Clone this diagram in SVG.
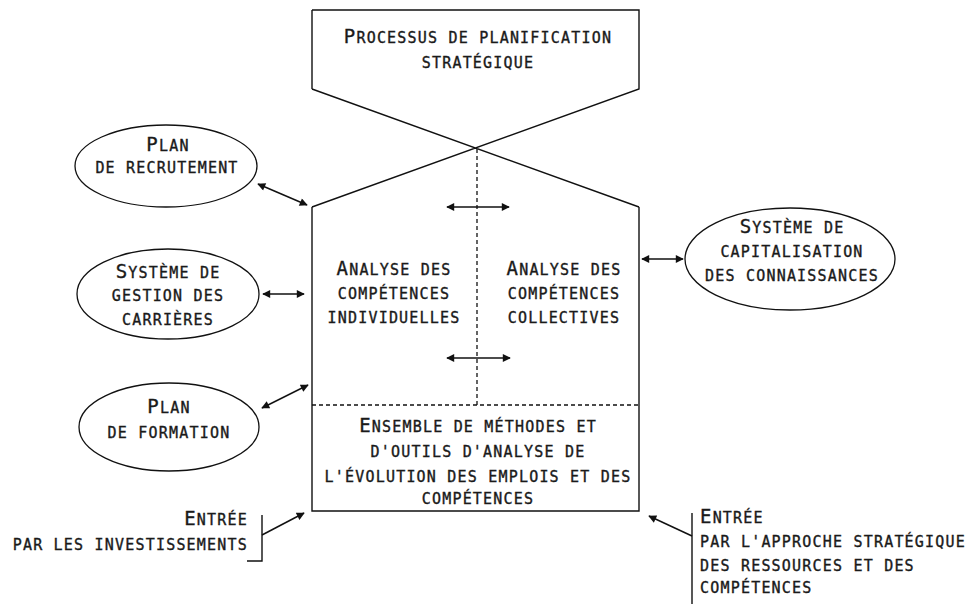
<svg xmlns="http://www.w3.org/2000/svg" width="979" height="604" viewBox="0 0 979 604">
<defs>
<marker id="ah" viewBox="0 0 10 10" refX="9" refY="5" markerWidth="10" markerHeight="8" markerUnits="userSpaceOnUse" orient="auto-start-reverse">
<path d="M0,0 L10,5 L0,10 Z" fill="#111"/>
</marker>
<style>
.ln{fill:none;stroke:#111;stroke-width:1.4}
.dash{fill:none;stroke:#111;stroke-width:1.3;stroke-dasharray:4,3}
.con{fill:none;stroke:#111;stroke-width:1.5}
.el{fill:#fff;stroke:#111;stroke-width:1.3}
text{font-family:"DejaVu Sans Mono","Liberation Mono",monospace;font-size:15px;letter-spacing:1.2px;fill:#1a1a1a;stroke:#1a1a1a;stroke-width:0.35}
.c{text-anchor:middle}
.r{text-anchor:end}
.b{font-size:19px}
</style>
</defs>
<rect width="979" height="604" fill="#fff"/>

<g id="planification">
<path class="ln" d="M312,10 L639,10 L639,89 L312,207 M312,89 L312,10 M312,89 L639,207"/>
<text class="c" x="478" y="43"><tspan class="b">P</tspan>ROCESSUS DE PLANIFICATION</text>
<text class="c" x="478" y="68">STRATÉGIQUE</text>
</g>

<g id="structure">
<path class="ln" d="M312,207 L312,511 L639,511 L639,207"/>
<path class="dash" d="M477,149 L477,405 M312,405 L639,405"/>
</g>

<g id="individuelles">
<text class="c" x="394" y="275"><tspan class="b">A</tspan>NALYSE DES</text>
<text class="c" x="394" y="299">COMPÉTENCES</text>
<text class="c" x="394" y="323">INDIVIDUELLES</text>
</g>

<g id="collectives">
<text class="c" x="564" y="275"><tspan class="b">A</tspan>NALYSE DES</text>
<text class="c" x="564" y="299">COMPÉTENCES</text>
<text class="c" x="564" y="323">COLLECTIVES</text>
</g>

<g id="methodes">
<text class="c" x="478" y="432"><tspan class="b">E</tspan>NSEMBLE DE MÉTHODES ET</text>
<text class="c" x="478" y="457">D'OUTILS D'ANALYSE DE</text>
<text class="c" x="478" y="482">L'ÉVOLUTION DES EMPLOIS ET DES</text>
<text class="c" x="478" y="504">COMPÉTENCES</text>
</g>

<g id="recrutement">
<ellipse class="el" cx="166" cy="166" rx="91" ry="41"/>
<text class="c" x="168" y="151"><tspan class="b">P</tspan>LAN</text>
<text class="c" x="167" y="173">DE RECRUTEMENT</text>
</g>

<g id="carrieres">
<ellipse class="el" cx="168" cy="294" rx="91" ry="45"/>
<text class="c" x="168" y="278"><tspan class="b">S</tspan>YSTÈME DE</text>
<text class="c" x="168" y="301">GESTION DES</text>
<text class="c" x="168" y="325">CARRIÈRES</text>
</g>

<g id="formation">
<ellipse class="el" cx="169" cy="427" rx="90" ry="44"/>
<text class="c" x="169" y="413"><tspan class="b">P</tspan>LAN</text>
<text class="c" x="169" y="438">DE FORMATION</text>
</g>

<g id="capitalisation">
<ellipse class="el" cx="790" cy="259" rx="105" ry="51"/>
<text class="c" x="792" y="233"><tspan class="b">S</tspan>YSTÈME DE</text>
<text class="c" x="792" y="257">CAPITALISATION</text>
<text class="c" x="792" y="281">DES CONNAISSANCES</text>
</g>

<g id="investissements">
<path class="ln" d="M262,515 L262,561 L247,561"/>
<text class="r" x="248" y="525"><tspan class="b">E</tspan>NTRÉE</text>
<text class="r" x="248" y="550">PAR LES INVESTISSEMENTS</text>
</g>

<g id="approche">
<path class="ln" d="M692,513 L692,604"/>
<text x="700" y="523"><tspan class="b">E</tspan>NTRÉE</text>
<text x="700" y="547">PAR L'APPROCHE STRATÉGIQUE</text>
<text x="700" y="571">DES RESSOURCES ET DES</text>
<text x="700" y="593">COMPÉTENCES</text>
</g>

<g id="connectors">
<line class="con" x1="258" y1="184" x2="307" y2="205" marker-start="url(#ah)" marker-end="url(#ah)"/>
<line class="con" x1="263" y1="294" x2="304" y2="294" marker-start="url(#ah)" marker-end="url(#ah)"/>
<line class="con" x1="262" y1="408" x2="308" y2="385" marker-start="url(#ah)" marker-end="url(#ah)"/>
<line class="con" x1="642" y1="259" x2="683" y2="259" marker-start="url(#ah)" marker-end="url(#ah)"/>
<line class="con" x1="447" y1="207" x2="509" y2="207" marker-start="url(#ah)" marker-end="url(#ah)"/>
<line class="con" x1="447" y1="358" x2="510" y2="358" marker-start="url(#ah)" marker-end="url(#ah)"/>
<line class="con" x1="262" y1="535" x2="304" y2="513" marker-end="url(#ah)"/>
<line class="con" x1="692" y1="536" x2="649" y2="516" marker-end="url(#ah)"/>
</g>
</svg>
